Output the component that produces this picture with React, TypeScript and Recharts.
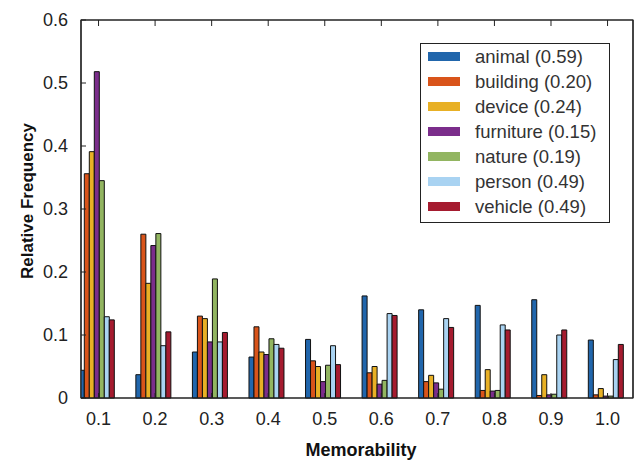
import React from 'react';
import { BarChart, Bar, XAxis, YAxis, ReferenceArea } from 'recharts';

const categories = [0.1, 0.2, 0.3, 0.4, 0.5, 0.6, 0.7, 0.8, 0.9, 1.0];
const animal = [0.044, 0.037, 0.073, 0.065, 0.093, 0.162, 0.140, 0.147, 0.156, 0.092];
const building = [0.356, 0.260, 0.130, 0.113, 0.059, 0.040, 0.026, 0.012, 0.004, 0.005];
const device = [0.391, 0.182, 0.126, 0.073, 0.050, 0.050, 0.036, 0.045, 0.037, 0.015];
const furniture = [0.518, 0.242, 0.089, 0.069, 0.026, 0.022, 0.024, 0.011, 0.005, 0.003];
const nature = [0.345, 0.261, 0.189, 0.094, 0.052, 0.028, 0.014, 0.012, 0.006, 0.003];
const person = [0.129, 0.083, 0.089, 0.085, 0.083, 0.134, 0.126, 0.116, 0.100, 0.061];
const vehicle = [0.124, 0.105, 0.104, 0.079, 0.053, 0.131, 0.112, 0.108, 0.108, 0.085];

const seriesNames = ['animal', 'building', 'device', 'furniture', 'nature', 'person', 'vehicle'];
const seriesLabels = ['animal (0.59)', 'building (0.20)', 'device (0.24)', 'furniture (0.15)', 'nature (0.19)', 'person (0.49)', 'vehicle (0.49)'];
const seriesValues = [animal, building, device, furniture, nature, person, vehicle];
const colors = ['#2166ac', '#d9541a', '#e8b025', '#7b2d8b', '#92b561', '#a9d3f2', '#a51b2f'];

const yTicks = [0, 0.1, 0.2, 0.3, 0.4, 0.5, 0.6];
const xDomain = [0.069, 1.045];

const data = categories.map((c, i) => {
  const row: any = { x: c };
  seriesNames.forEach((s, k) => { row[s] = seriesValues[k][i]; });
  return row;
});

const FONT = 'Liberation Sans, Arial, Helvetica, sans-serif';

const LegendBox = () => (
  <div style={{
    position: 'absolute', left: 420, top: 43,
    border: '1px solid #222', background: '#fff', width: 190, boxSizing: 'border-box',
    padding: '0 0 3px 0', fontFamily: FONT, fontSize: 18.5, color: '#333',
  }}>
    {seriesNames.map((s, k) => (
      <div key={s} style={{ display: 'flex', alignItems: 'center', height: 25 }}>
        <span style={{ display: 'inline-block', width: 32, height: 9, background: colors[k], marginLeft: 7, marginRight: 15 }} />
        <span>{seriesLabels[k]}</span>
      </div>
    ))}
  </div>
);

const empty = () => '';

export default function App() {
  return (
    <div style={{ position: 'absolute', left: 0, top: 0, width: 634, height: 460, background: '#fff' }}>
      <BarChart
        width={634}
        height={460}
        data={data}
        margin={{ top: 19, right: 0, bottom: 0, left: 0 }}
        barCategoryGap="16%"
        barGap={0}
      >
        <XAxis
          dataKey="x"
          type="number"
          domain={xDomain}
          allowDataOverflow
          ticks={categories}
          tickFormatter={(v: number) => v.toFixed(1)}
          height={62}
          tickSize={-5}
          tickMargin={19}
          axisLine={{ stroke: '#222', strokeWidth: 1.2 }}
          tickLine={{ stroke: '#222' }}
          tick={{ fill: '#222', fontSize: 18, fontFamily: FONT }}
          label={() => (
            <text x={361} y={456} textAnchor="middle" fontFamily={FONT} fontSize={18} fontWeight="bold" fill="#111">Memorability</text>
          )}
        />
        <XAxis
          xAxisId="top"
          dataKey="x"
          type="number"
          orientation="top"
          domain={xDomain}
          allowDataOverflow
          ticks={categories}
          tickFormatter={empty}
          height={1}
          tickSize={-6}
          axisLine={{ stroke: '#222', strokeWidth: 1.2 }}
          tickLine={{ stroke: '#222' }}
        />
        <YAxis
          domain={[0, 0.6]}
          ticks={yTicks}
          width={81}
          tickSize={-5}
          tickMargin={18}
          tickFormatter={(v: number) => (v === 0 ? '0' : v.toFixed(1))}
          axisLine={{ stroke: '#222', strokeWidth: 1.2 }}
          tickLine={{ stroke: '#222' }}
          tick={{ fill: '#222', fontSize: 18, fontFamily: FONT }}
          label={() => (
            <text x={33} y={201} transform="rotate(-90 33 201)" textAnchor="middle" fontFamily={FONT} fontSize={17} fontWeight="bold" fill="#111">Relative Frequency</text>
          )}
        />
        <YAxis
          yAxisId="right"
          orientation="right"
          domain={[0, 0.6]}
          ticks={yTicks}
          tickFormatter={empty}
          width={1}
          tickSize={-6}
          axisLine={{ stroke: '#222', strokeWidth: 1.2 }}
          tickLine={{ stroke: '#222' }}
        />
        <ReferenceArea x1={xDomain[0]} x2={xDomain[1]} y1={0} y2={0.6} fill="none" stroke="#222" strokeWidth={1.2} ifOverflow="extendDomain" />
        {seriesNames.map((s, k) => (
          <Bar key={s} dataKey={s} fill={colors[k]} stroke="#111" strokeWidth={1} isAnimationActive={false} />
        ))}
      </BarChart>
      <LegendBox />
    </div>
  );
}
